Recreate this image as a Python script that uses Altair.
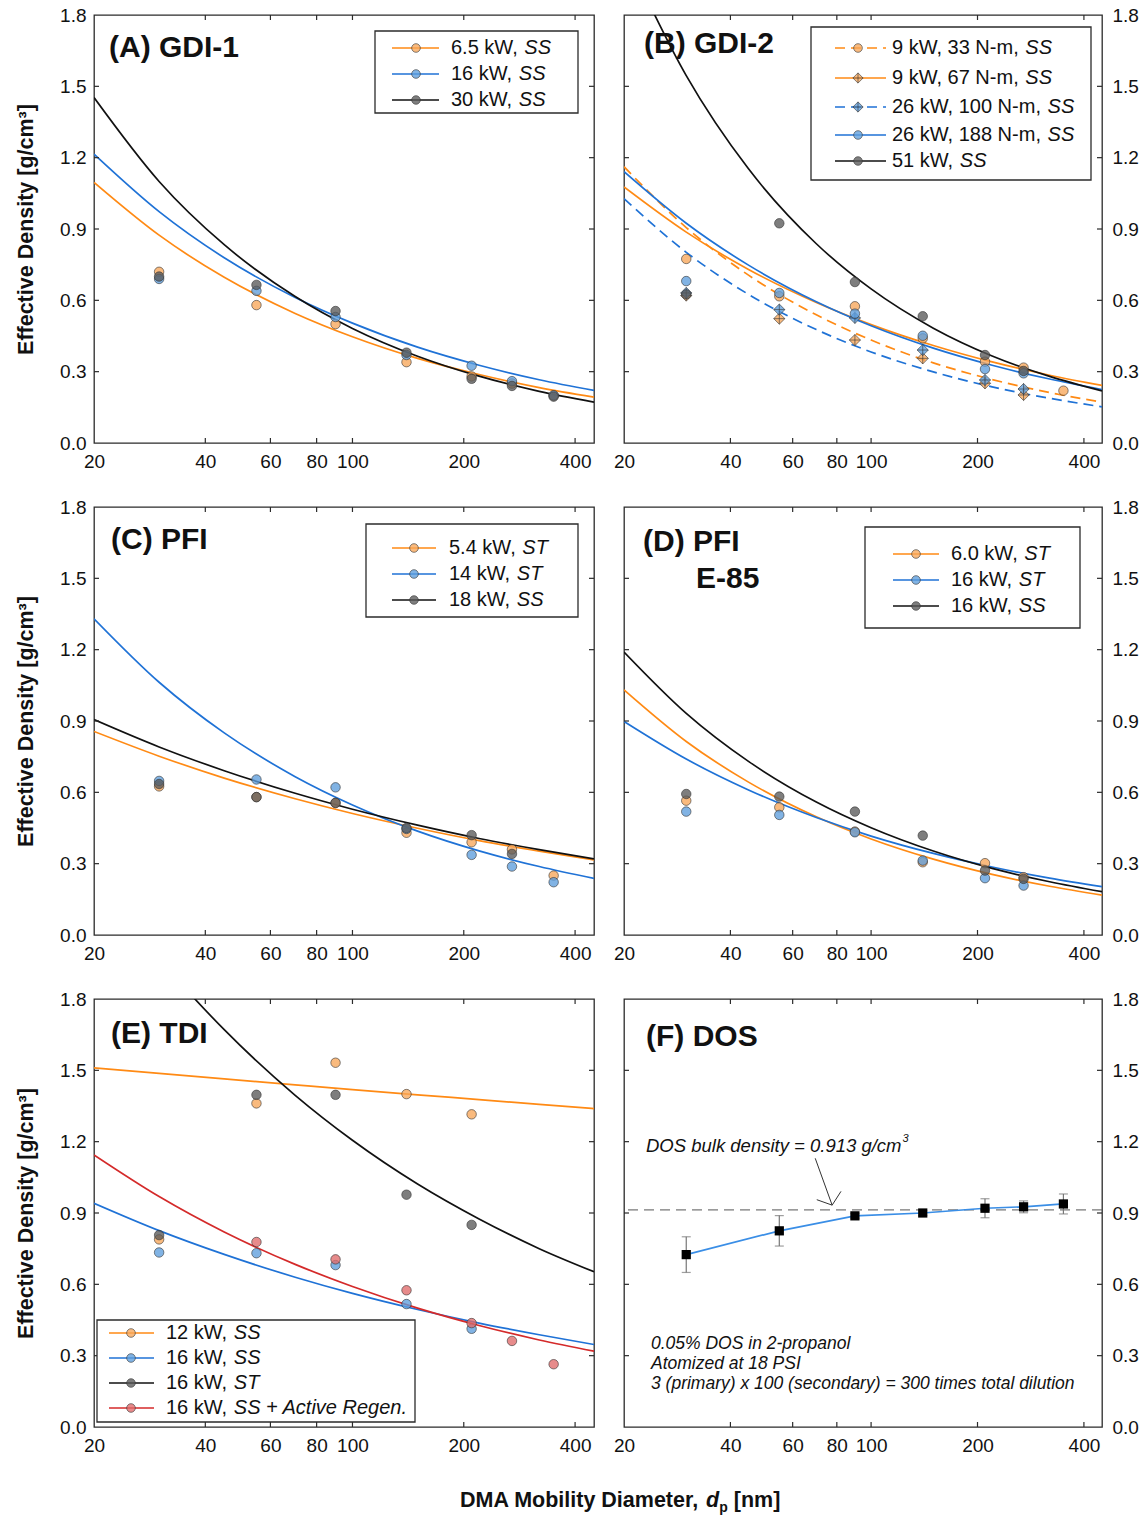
import altair as alt
import pandas as pd

FONT = "Liberation Sans"
FRAME = "#2b2b2b"
TXT = "#111111"
W_L, W_R, H = 500, 478, 428

# ---------------- shared axes data ----------------
D_FIT = [20, 30, 45, 70, 100, 150, 220, 320, 450]
D_PTS = [30, 55, 90, 140, 210, 270, 350]
X_TICKS = [20, 40, 60, 80, 100, 200, 400]
Y_TICKS = [0.0, 0.3, 0.6, 0.9, 1.2, 1.5, 1.8]

OR_L, BL_L, BK_L, RD_L = "#FF8A14", "#1F72D6", "#111111", "#D42A2A"
OR_P, BL_P, BK_P, RD_P = "#F7A65A", "#5E9EDC", "#5A5A5A", "#E06A6A"
CIRCLE = "circle"
DIAMOND_X = "M0,-1L1,0L0,1L-1,0Z M0,-1L0,1 M-1,0L1,0"

# ---------------- (A) GDI-1 ----------------
A_names = ["6.5 kW, ", "16 kW, ", "30 kW, "]
A_modes = ["SS", "SS", "SS"]
A_pts = [
    [0.72, 0.58, 0.50, 0.34, 0.28, 0.25, 0.20],
    [0.69, 0.64, 0.53, 0.37, 0.325, 0.26, 0.20],
    [0.70, 0.665, 0.555, 0.38, 0.27, 0.24, 0.195],
]
A_fit = [
    [1.096, 0.874, 0.697, 0.545, 0.447, 0.356, 0.288, 0.233, 0.193],
    [1.215, 0.973, 0.779, 0.612, 0.504, 0.403, 0.327, 0.266, 0.221],
    [1.453, 1.100, 0.834, 0.616, 0.482, 0.365, 0.281, 0.217, 0.172],
]

# ---------------- (B) GDI-2 ----------------
B_names = ["9 kW, 33 N-m, ", "9 kW, 67 N-m, ", "26 kW, 100 N-m, ", "26 kW, 188 N-m, ", "51 kW, "]
B_modes = ["SS", "SS", "SS", "SS", "SS"]
B_pts = [
    [0.774, 0.617, 0.575, 0.44, 0.342, 0.317, 0.220],
    [0.62, 0.523, 0.433, 0.356, 0.251, 0.202, None],
    [0.631, 0.561, 0.526, 0.391, 0.265, 0.227, None],
    [0.681, 0.631, 0.544, 0.451, 0.311, 0.293, None],
    [0.625, 0.924, 0.677, 0.533, 0.370, 0.303, None],
]
B_fit = [
    [1.162, 0.906, 0.706, 0.539, 0.433, 0.337, 0.267, 0.212, 0.172],
    [1.077, 0.887, 0.730, 0.591, 0.498, 0.410, 0.341, 0.285, 0.242],
    [1.028, 0.802, 0.625, 0.477, 0.383, 0.299, 0.236, 0.188, 0.152],
    [1.141, 0.924, 0.748, 0.594, 0.493, 0.399, 0.327, 0.269, 0.225],
    [2.070, 1.545, 1.153, 0.838, 0.648, 0.483, 0.366, 0.280, 0.219],
]

# ---------------- (C) PFI ----------------
C_names = ["5.4 kW, ", "14 kW, ", "18 kW, "]
C_modes = ["ST", "ST", "SS"]
C_pts = [
    [0.625, 0.58, 0.555, 0.43, 0.39, 0.36, 0.25],
    [0.648, 0.654, 0.621, 0.446, 0.337, 0.288, 0.222],
    [0.635, 0.58, 0.556, 0.45, 0.42, 0.341, None],
]
C_fit = [
    [0.856, 0.752, 0.660, 0.573, 0.511, 0.449, 0.397, 0.353, 0.316],
    [1.330, 1.063, 0.850, 0.666, 0.547, 0.437, 0.354, 0.288, 0.238],
    [0.906, 0.791, 0.691, 0.596, 0.529, 0.462, 0.406, 0.359, 0.320],
]

# ---------------- (D) PFI E-85 ----------------
D_names = ["6.0 kW, ", "16 kW, ", "16 kW, "]
D_modes = ["ST", "ST", "SS"]
D_pts = [
    [0.565, 0.537, 0.435, 0.306, 0.302, 0.243, None],
    [0.519, 0.505, 0.432, 0.313, 0.239, 0.208, None],
    [0.593, 0.582, 0.519, 0.418, 0.271, 0.236, None],
]
D_fit = [
    [1.031, 0.814, 0.643, 0.497, 0.404, 0.319, 0.255, 0.205, 0.168],
    [0.898, 0.740, 0.610, 0.494, 0.416, 0.343, 0.286, 0.239, 0.203],
    [1.190, 0.932, 0.730, 0.559, 0.451, 0.353, 0.280, 0.224, 0.182],
]

# ---------------- (E) TDI ----------------
E_names = ["12 kW, ", "16 kW, ", "16 kW, ", "16 kW, "]
E_modes = ["SS", "SS", "ST", "SS + Active Regen."]
E_pts = [
    [0.789, 1.361, 1.532, 1.400, 1.315, None, None],
    [0.734, 0.731, 0.681, 0.517, 0.413, None, None],
    [0.807, 1.397, 1.397, 0.977, 0.850, None, None],
    [None, 0.778, 0.705, 0.575, 0.437, 0.362, 0.264],
]
E_fit = [
    [1.510, 1.487, 1.464, 1.439, 1.419, 1.397, 1.377, 1.357, 1.339],
    [0.941, 0.826, 0.726, 0.630, 0.562, 0.494, 0.437, 0.388, 0.347],
    [2.326, 1.971, 1.671, 1.395, 1.206, 1.022, 0.875, 0.750, 0.653],
    [1.144, 0.969, 0.820, 0.684, 0.591, 0.500, 0.427, 0.366, 0.319],
]

# ---------------- (F) DOS ----------------
F_vals = [0.725, 0.825, 0.888, 0.900, 0.920, 0.926, 0.938]
F_err = [0.075, 0.064, 0.010, 0.010, 0.040, 0.025, 0.042]
F_bulk = 0.913
F_arrow_x1 = [69.5, 70.2, 82.2]
F_arrow_y1 = [1.13, 0.956, 0.991]
F_arrow_x2 = [77.6, 77.6, 77.6]
F_arrow_y2 = [0.933, 0.933, 0.933]

# ---------------- helpers ----------------
XS = alt.Scale(type="log", domain=[20, 450], nice=False)
YS = alt.Scale(domain=[0, 1.8], nice=False)
ONE = pd.DataFrame({"k": [0]})

AW = {c: 556 for c in "0123456789"}
AW.update({".": 278, " ": 278, ",": 278, "k": 500, "W": 944, "N": 722, "-": 333, "m": 833})


def tw(s, fs):
    return sum(AW.get(c, 556) for c in s) * fs / 1000.0


def xax():
    return alt.Axis(values=X_TICKS, format="d", ticks=False, domain=False, grid=False,
                    labelFont=FONT, labelFontSize=19, labelColor=TXT, labelPadding=9,
                    labelFlush=False, labelOverlap=False, title=None)


def yax(side):
    kw = dict(values=Y_TICKS, format=".1f", ticks=False, domain=False, grid=False,
              labelFont=FONT, labelFontSize=19, labelColor=TXT, labelFlush=False,
              labelOverlap=False, orient=side)
    if side == "left":
        kw.update(title="Effective Density [g/cm³]", titleFont=FONT, titleFontSize=21.5,
                  titleFontWeight="bold", titleColor=TXT, titlePadding=22, labelPadding=8)
    else:
        kw.update(title=None, labelPadding=10)
    return alt.Axis(**kw)


def XE(f):
    return alt.X(f, scale=XS, axis=xax())


def YE(f, side):
    return alt.Y(f, scale=YS, axis=yax(side))


def point_mark(fill, shape, size):
    return dict(filled=True, shape=shape, size=size, fill=fill, fillOpacity=0.78,
                stroke="#333333", strokeOpacity=0.75, strokeWidth=0.8)


def series_layers(fits, pts, lcols, dashes, fills, shapes, side):
    L = []
    for f, lc, ds in zip(fits, lcols, dashes):
        df = pd.DataFrame({"d": D_FIT, "v": f})
        mk = dict(color=lc, strokeWidth=1.7, clip=True, interpolate="monotone")
        if ds:
            mk["strokeDash"] = ds
        L.append(alt.Chart(df).mark_line(**mk).encode(x=XE("d:Q"), y=YE("v:Q", side)))
    for p, fc, sh in zip(pts, fills, shapes):
        df = pd.DataFrame({"d": D_PTS, "v": p}).dropna()
        size = 90 if sh == CIRCLE else 125
        L.append(alt.Chart(df).mark_point(**point_mark(fc, sh, size)).encode(x=XE("d:Q"), y=YE("v:Q", side)))
    return L


def tick_layers(W, side):
    xt = alt.Chart(pd.DataFrame({"t": X_TICKS[1:]}))
    yt = alt.Chart(pd.DataFrame({"u": Y_TICKS[1:-1]}))
    rk = dict(color=FRAME, strokeWidth=1.2)
    return [
        xt.mark_rule(**rk).encode(x=XE("t:Q"), y=alt.value(H), y2=alt.value(H - 5)),
        xt.mark_rule(**rk).encode(x=XE("t:Q"), y=alt.value(0), y2=alt.value(5)),
        yt.mark_rule(**rk).encode(y=YE("u:Q", side), x=alt.value(0), x2=alt.value(5)),
        yt.mark_rule(**rk).encode(y=YE("u:Q", side), x=alt.value(W - 5), x2=alt.value(W)),
    ]


def legend_layers(box, rows, lx, mx, tx, names, modes, lcols, dashes, fills, shapes, fs=20):
    x1, y1, x2, y2 = box
    L = [alt.Chart(ONE).mark_rect(fill="white", stroke=FRAME, strokeWidth=1.3).encode(
        x=alt.value(x1), x2=alt.value(x2), y=alt.value(y1), y2=alt.value(y2))]
    for yr, nm, md, lc, ds, fc, sh in zip(rows, names, modes, lcols, dashes, fills, shapes):
        mk = dict(color=lc, strokeWidth=1.7)
        if ds:
            mk["strokeDash"] = ds
        L.append(alt.Chart(ONE).mark_rule(**mk).encode(x=alt.value(lx[0]), x2=alt.value(lx[1]), y=alt.value(yr)))
        size = 75 if sh == CIRCLE else 105
        L.append(alt.Chart(ONE).mark_point(**point_mark(fc, sh, size)).encode(x=alt.value(mx), y=alt.value(yr)))
        L.append(alt.Chart(ONE).mark_text(align="left", baseline="middle", font=FONT, fontSize=fs, color=TXT)
                 .encode(x=alt.value(tx), y=alt.value(yr), text=alt.value(nm)))
        L.append(alt.Chart(ONE).mark_text(align="left", baseline="middle", font=FONT, fontSize=fs, color=TXT,
                                          fontStyle="italic")
                 .encode(x=alt.value(tx + tw(nm, fs)), y=alt.value(yr), text=alt.value(md)))
    return L


def label_layers(items, fs=30):
    L = []
    for txt, x, y in items:
        L.append(alt.Chart(ONE).mark_text(align="left", baseline="middle", font=FONT, fontSize=fs,
                                          fontWeight="bold", color=TXT)
                 .encode(x=alt.value(x), y=alt.value(y), text=alt.value(txt)))
    return L


def panel(W, layers):
    return alt.layer(*layers).properties(width=W, height=H)


# ---------------- build panels ----------------
S3 = dict(lcols=[OR_L, BL_L, BK_L], dashes=[None, None, None],
          fills=[OR_P, BL_P, BK_P], shapes=[CIRCLE, CIRCLE, CIRCLE])

pA = panel(W_L,
           series_layers(A_fit, A_pts, side="left", **S3) + tick_layers(W_L, "left") +
           legend_layers((281, 16, 484, 98), [33, 59, 85], (298, 345), 322, 357, A_names, A_modes, **S3) +
           label_layers([("(A) GDI-1", 15, 33)]))

SB = dict(lcols=[OR_L, OR_L, BL_L, BL_L, BK_L], dashes=[[10, 6], None, [10, 6], None, None],
          fills=[OR_P, OR_P, BL_P, BL_P, BK_P], shapes=[CIRCLE, DIAMOND_X, DIAMOND_X, CIRCLE, CIRCLE])
pB = panel(W_R,
           series_layers(B_fit, B_pts, side="right", **SB) + tick_layers(W_R, "right") +
           legend_layers((187, 12, 467, 165), [33, 63, 92, 120, 146], (211, 262), 234, 268, B_names, B_modes, **SB) +
           label_layers([("(B) GDI-2", 20, 29)]))

pC = panel(W_L,
           series_layers(C_fit, C_pts, side="left", **S3) + tick_layers(W_L, "left") +
           legend_layers((272, 17, 484, 110), [41, 67, 93], (298, 342), 320, 355, C_names, C_modes, **S3) +
           label_layers([("(C) PFI", 17, 33)]))

pD = panel(W_R,
           series_layers(D_fit, D_pts, side="right", **S3) + tick_layers(W_R, "right") +
           legend_layers((241, 20, 456, 121), [47, 73, 99], (269, 315), 292, 327, D_names, D_modes, **S3) +
           label_layers([("(D) PFI", 19, 35), ("E-85", 72, 72)]))

SE = dict(lcols=[OR_L, BL_L, BK_L, RD_L], dashes=[None, None, None, None],
          fills=[OR_P, BL_P, BK_P, RD_P], shapes=[CIRCLE, CIRCLE, CIRCLE, CIRCLE])
pE = panel(W_L,
           series_layers(E_fit, E_pts, side="left", **SE) + tick_layers(W_L, "left") +
           legend_layers((3, 321, 321, 423), [334, 359, 384, 409], (15, 60), 37, 72, E_names, E_modes, **SE) +
           label_layers([("(E) TDI", 17, 35)]))

# panel F
fdf = pd.DataFrame({"d": D_PTS, "v": F_vals, "e": F_err})
fdf["lo"] = fdf["v"] - fdf["e"]
fdf["hi"] = fdf["v"] + fdf["e"]
arrow = pd.DataFrame({"x1": F_arrow_x1, "y1": F_arrow_y1, "x2": F_arrow_x2, "y2": F_arrow_y2})
fbase = alt.Chart(fdf)
cap = dict(shape="M-1,0L1,0", size=81, filled=False, stroke="#777777", strokeWidth=1.2)
f_layers = [
    alt.Chart(pd.DataFrame({"b": [F_bulk]})).mark_rule(color="#555555", strokeDash=[10, 6], strokeWidth=1)
    .encode(y=YE("b:Q", "right")),
    fbase.mark_line(color="#3A8EE6", strokeWidth=1.7).encode(x=XE("d:Q"), y=YE("v:Q", "right")),
    fbase.mark_rule(color="#777777", strokeWidth=1.2).encode(x=XE("d:Q"), y=YE("lo:Q", "right"), y2="hi:Q"),
    fbase.mark_point(**cap).encode(x=XE("d:Q"), y=YE("lo:Q", "right")),
    fbase.mark_point(**cap).encode(x=XE("d:Q"), y=YE("hi:Q", "right")),
    fbase.mark_point(shape="square", filled=True, fill="black", size=85, opacity=1)
    .encode(x=XE("d:Q"), y=YE("v:Q", "right")),
    alt.Chart(arrow).mark_rule(color="#333333", strokeWidth=1).encode(
        x=XE("x1:Q"), y=YE("y1:Q", "right"), x2="x2:Q", y2="y2:Q"),
]
ann_fs = 18.5
f_text = [
    alt.Chart(ONE).mark_text(align="left", baseline="middle", font=FONT, fontSize=ann_fs, fontStyle="italic", color=TXT)
    .encode(x=alt.value(22), y=alt.value(147), text=alt.value("DOS bulk density = 0.913 g/cm")),
    alt.Chart(ONE).mark_text(align="left", baseline="middle", font=FONT, fontSize=11, fontStyle="italic", color=TXT)
    .encode(x=alt.value(22 + 13812 * ann_fs / 1000.0 + 1), y=alt.value(140), text=alt.value("3")),
]
for txt, yy in [("0.05% DOS in 2-propanol", 345), ("Atomized at 18 PSI", 365),
                ("3 (primary) x 100 (secondary) = 300 times total dilution", 385)]:
    f_text.append(alt.Chart(ONE).mark_text(align="left", baseline="middle", font=FONT, fontSize=17.5,
                                           fontStyle="italic", color=TXT)
                  .encode(x=alt.value(27), y=alt.value(yy), text=alt.value(txt)))
pF = panel(W_R, f_layers + tick_layers(W_R, "right") + f_text + label_layers([("(F) DOS", 22, 38)]))

# bottom x-axis title (own small row)
xt_fs = 21.5
xt_x0 = 366
xt_y = 20
xt_w1 = 11446 * xt_fs / 1000.0
xt_wd = 611 * xt_fs / 1000.0
xt_wp = 611 * 14 / 1000.0 + 278 * xt_fs / 1000.0
xtitle = alt.layer(
    alt.Chart(ONE).mark_text(align="left", baseline="middle", font=FONT, fontSize=xt_fs, fontWeight="bold", color=TXT)
    .encode(x=alt.value(xt_x0), y=alt.value(xt_y), text=alt.value("DMA Mobility Diameter,")),
    alt.Chart(ONE).mark_text(align="left", baseline="middle", font=FONT, fontSize=xt_fs, fontWeight="bold",
                             fontStyle="italic", color=TXT)
    .encode(x=alt.value(xt_x0 + xt_w1), y=alt.value(xt_y), text=alt.value("d")),
    alt.Chart(ONE).mark_text(align="left", baseline="middle", font=FONT, fontSize=14, fontWeight="bold", color=TXT)
    .encode(x=alt.value(xt_x0 + xt_w1 + xt_wd), y=alt.value(xt_y + 7), text=alt.value("p")),
    alt.Chart(ONE).mark_text(align="left", baseline="middle", font=FONT, fontSize=xt_fs, fontWeight="bold", color=TXT)
    .encode(x=alt.value(xt_x0 + xt_w1 + xt_wd + xt_wp), y=alt.value(xt_y), text=alt.value("[nm]")),
).properties(width=900, height=34, view=alt.ViewBackground(strokeOpacity=0))

row1 = alt.hconcat(pA, pB, spacing=16)
row2 = alt.hconcat(pC, pD, spacing=16)
row3 = alt.hconcat(pE, pF, spacing=16)

chart = (
    alt.vconcat(row1, row2, row3, xtitle, spacing=25)
    .properties(padding={"left": 14, "top": 5, "right": 5, "bottom": 5}, background="white")
    .configure_view(stroke=FRAME, strokeWidth=1.3)
)

chart.save("out.html", embed_options={"renderer": "svg", "actions": False})
